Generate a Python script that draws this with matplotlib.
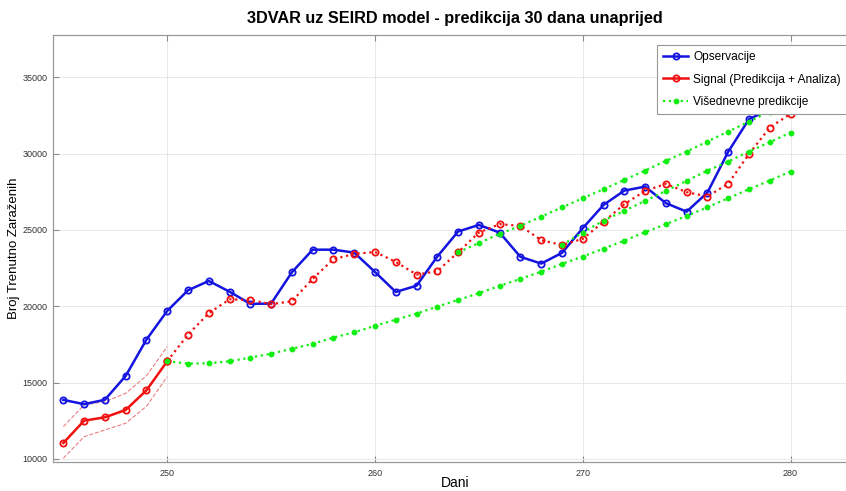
import matplotlib.pyplot as plt

# dani i podaci (ocitano sa slike)
dani = list(range(245, 281))

opservacije = [13870, 13590, 13880, 15440, 17820, 19700, 21050, 21660, 20960, 20160,
               20180, 22230, 23710, 23710, 23520, 22250, 20940, 21350, 23260, 24900,
               25330, 24830, 23240, 22800, 23500, 25120, 26640, 27580, 27840, 26760,
               26200, 27450, 30120, 32260, 32900, 33300]

signal = [11050, 12510, 12730, 13210, 14500, 16400, 18150, 19550, 20460, 20420,
          20140, 20330, 21800, 23090, 23430, 23560, 22910, 22080, 22300, 23540,
          24830, 25380, 25270, 24330, 24020, 24420, 25530, 26690, 27560, 28020,
          27480, 27190, 28040, 29970, 31710, 32610]

# nesigurnost analize (prvih 6 dana)
gornja = [12120, 13540, 13750, 14300, 15450, 17360]
donja = [10050, 11460, 11900, 12340, 13450, 15390]

# visednevne predikcije: pocetni dan i vrijednosti
pred_start = [250, 264, 269]
pred_a = [16400, 16250, 16270, 16400, 16640, 16900, 17220, 17540, 17950, 18300,
          18720, 19130, 19520, 19980, 20420, 20860, 21340, 21800, 22270, 22780,
          23260, 23780, 24300, 24860, 25380, 25920, 26490, 27080, 27670, 28240, 28830]
pred_b = [23540, 24140, 24750, 25270, 25880, 26480, 27080, 27670, 28280, 28890,
          29530, 30140, 30790, 31450, 32100, 32760, 33400]
pred_c = [24020, 24830, 25620, 26250, 26910, 27560, 28220, 28890, 29480, 30140,
          30750, 31380]

plt.rcParams['font.family'] = ['Liberation Sans', 'DejaVu Sans']

fig = plt.figure(figsize=(8.46, 4.91), dpi=100)
ax = fig.add_axes([0.0626, 0.0585, 0.9504, 0.8702])

green = '#11ee11'
n0 = len(gornja)

# opservacije
l_obs, = ax.plot(dani, opservacije, '-o', color='#1414e0', lw=1.8, ms=4.5,
                 mfc='none', mew=1.3, label='Opservacije', zorder=3)

# nesigurnost
ax.plot(dani[:n0], gornja, '--', color='#e88080', lw=0.8, zorder=2)
ax.plot(dani[:n0], donja, '--', color='#e88080', lw=0.8, zorder=2)

# signal: analiza (puna linija) + predikcija (tockasto)
l_sig, = ax.plot(dani[:n0], signal[:n0], '-o', color='#f01010', lw=1.8, ms=4.5,
                 mfc='none', mew=1.3, label='Signal (Predikcija + Analiza)', zorder=4)
ax.plot(dani[n0 - 1:], signal[n0 - 1:], ':o', color='#f01010', lw=1.6, ms=4.5,
        mfc='none', mew=1.3, zorder=4)

# visednevne predikcije
l_pred = None
for start, vals in zip(pred_start, [pred_a, pred_b, pred_c]):
    x = list(range(start, start + len(vals)))
    ln, = ax.plot(x, vals, ':o', color=green, lw=1.6, ms=3.2, mec=green,
                  label='Višednevne predikcije', zorder=5)
    if l_pred is None:
        l_pred = ln

ax.set_xlim(244.5, 283.2)
ax.set_ylim(9784, 37772)
ax.set_xticks([250, 260, 270, 280])
ax.set_yticks([10000, 15000, 20000, 25000, 30000, 35000])

ax.grid(True, color='#e8e8e8', lw=0.7)
ax.set_axisbelow(True)
ax.tick_params(direction='in', length=4, width=0.8, color='#888888',
               labelsize=6.5, labelcolor='#333333', top=True, right=True)
ax.tick_params(axis='x', pad=4.5)
ax.tick_params(axis='y', pad=4)
for s in ax.spines.values():
    s.set_color('#999999')
    s.set_linewidth(0.9)

ax.set_title('3DVAR uz SEIRD model - predikcija 30 dana unaprijed',
             fontsize=11.7, fontweight='bold', pad=9)
ax.set_xlabel('Dani', fontsize=10, labelpad=-1)
ax.set_ylabel('Broj Trenutno Zaraženih', fontsize=9.5, labelpad=2)

leg = ax.legend(handles=[l_obs, l_sig, l_pred], loc='upper right',
                bbox_to_anchor=(0.988, 0.977), borderaxespad=0, fontsize=8.6,
                numpoints=1, fancybox=False, framealpha=1, edgecolor='#999999',
                handlelength=2.1, handletextpad=0.4, borderpad=0.55,
                labelspacing=0.85)
leg.get_frame().set_linewidth(0.8)

plt.savefig('out.png', dpi=100)
